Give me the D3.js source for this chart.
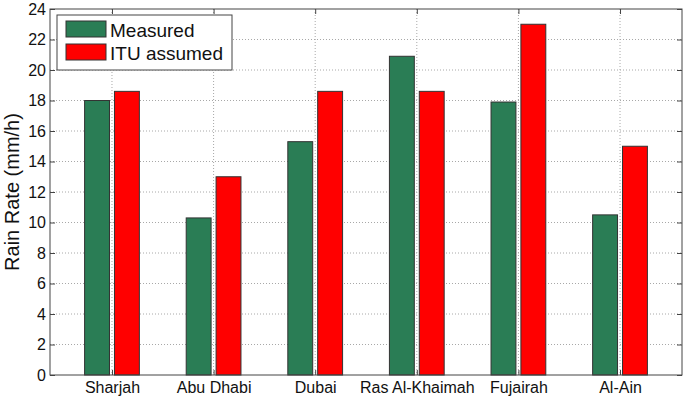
<!DOCTYPE html>
<html><head><meta charset="utf-8">
<script src="https://cdn.jsdelivr.net/npm/d3@7"></script>
<style>body{margin:0;background:#fff}svg{display:block}</style>
</head><body>
<svg id="c" width="685" height="401"></svg>
<script>
const categories = ["Sharjah","Abu Dhabi","Dubai","Ras Al-Khaimah","Fujairah","Al-Ain"];
const measured = [18.0, 10.3, 15.3, 20.9, 17.9, 10.5];
const ituAssumed = [18.6, 13.0, 18.6, 18.6, 23.0, 15.0];
const seriesNames = ["Measured","ITU assumed"];
const yTicks = [0,2,4,6,8,10,12,14,16,18,20,22,24];

const colors = ["#2a7d55","#ff0000"];
const svg = d3.select("#c");
const L=50, R=682, T=9, B=375;
const x = d3.scaleLinear().domain([0.39, 6.61]).range([L,R]);
const y = d3.scaleLinear().domain([0,24]).range([B,T]);
const font = "Arial, 'Liberation Sans', sans-serif";

// grid
const g = svg.append("g");
g.selectAll(".hg").data(yTicks.slice(1,-1)).enter().append("line")
  .attr("x1",L).attr("x2",R).attr("y1",d=>y(d)).attr("y2",d=>y(d))
  .attr("stroke","#a8a8a8").attr("stroke-width",1).attr("stroke-dasharray","1,2");
g.selectAll(".vg").data(categories).enter().append("line")
  .attr("x1",(d,i)=>x(i+1)).attr("x2",(d,i)=>x(i+1)).attr("y1",T).attr("y2",B)
  .attr("stroke","#a8a8a8").attr("stroke-width",1).attr("stroke-dasharray","1,2");

// bars
const bw = 0.245, off = 0.147;
const series = [measured, ituAssumed];
series.forEach((vals,si)=>{
  svg.append("g").selectAll("rect").data(vals).enter().append("rect")
    .attr("x",(d,i)=>x(i+1+(si===0?-off:off)-bw/2))
    .attr("width",x(bw)-x(0))
    .attr("y",d=>y(d)).attr("height",d=>y(0)-y(d))
    .attr("fill",colors[si]).attr("stroke","#333").attr("stroke-width",1);
});

// axes box
svg.append("rect").attr("x",L).attr("y",T).attr("width",R-L).attr("height",B-T)
  .attr("fill","none").attr("stroke","#444").attr("stroke-width",1);

const yAxis = d3.axisLeft(y).tickValues(yTicks).tickSizeInner(-5).tickSizeOuter(0).tickPadding(4);
const ya = svg.append("g").attr("transform",`translate(${L},0)`).call(yAxis);
ya.select(".domain").remove();
ya.selectAll("line").attr("stroke","#444");
ya.selectAll("text").attr("font-family",font).attr("font-size",16).attr("fill","#111");
const yAxisR = d3.axisRight(y).tickValues(yTicks).tickSizeInner(-5).tickSizeOuter(0).tickFormat("");
const yr = svg.append("g").attr("transform",`translate(${R},0)`).call(yAxisR);
yr.select(".domain").remove(); yr.selectAll("line").attr("stroke","#444");

const xAxis = d3.axisBottom(x).tickValues(d3.range(1,7)).tickFormat(d=>categories[d-1]).tickSizeInner(-5).tickSizeOuter(0).tickPadding(7);
const xa = svg.append("g").attr("transform",`translate(0,${B})`).call(xAxis);
xa.select(".domain").remove();
xa.selectAll("line").attr("stroke","#444");
xa.selectAll("text").attr("font-family",font).attr("font-size",16).attr("fill","#111");
const xAxisT = d3.axisTop(x).tickValues(d3.range(1,7)).tickSizeInner(-5).tickSizeOuter(0).tickFormat("");
const xt = svg.append("g").attr("transform",`translate(0,${T})`).call(xAxisT);
xt.select(".domain").remove(); xt.selectAll("line").attr("stroke","#444");

// y label
svg.append("text").attr("transform",`translate(19,${(T+B)/2}) rotate(-90)`)
  .attr("text-anchor","middle").attr("font-family",font).attr("font-size",20).attr("fill","#111")
  .text("Rain Rate (mm/h)");

// legend
const lg = svg.append("g");
lg.append("rect").attr("x",57).attr("y",15).attr("width",175).attr("height",55)
  .attr("fill","#fff").attr("stroke","#444").attr("stroke-width",1);
seriesNames.forEach((n,i)=>{
  lg.append("rect").attr("x",66).attr("y",21+i*23).attr("width",40).attr("height",16)
    .attr("fill",colors[i]).attr("stroke","#333");
  lg.append("text").attr("x",110).attr("y",36.5+i*23.5).attr("font-family",font).attr("font-size",19)
    .attr("fill","#111").text(n);
});
</script>
</body></html>
